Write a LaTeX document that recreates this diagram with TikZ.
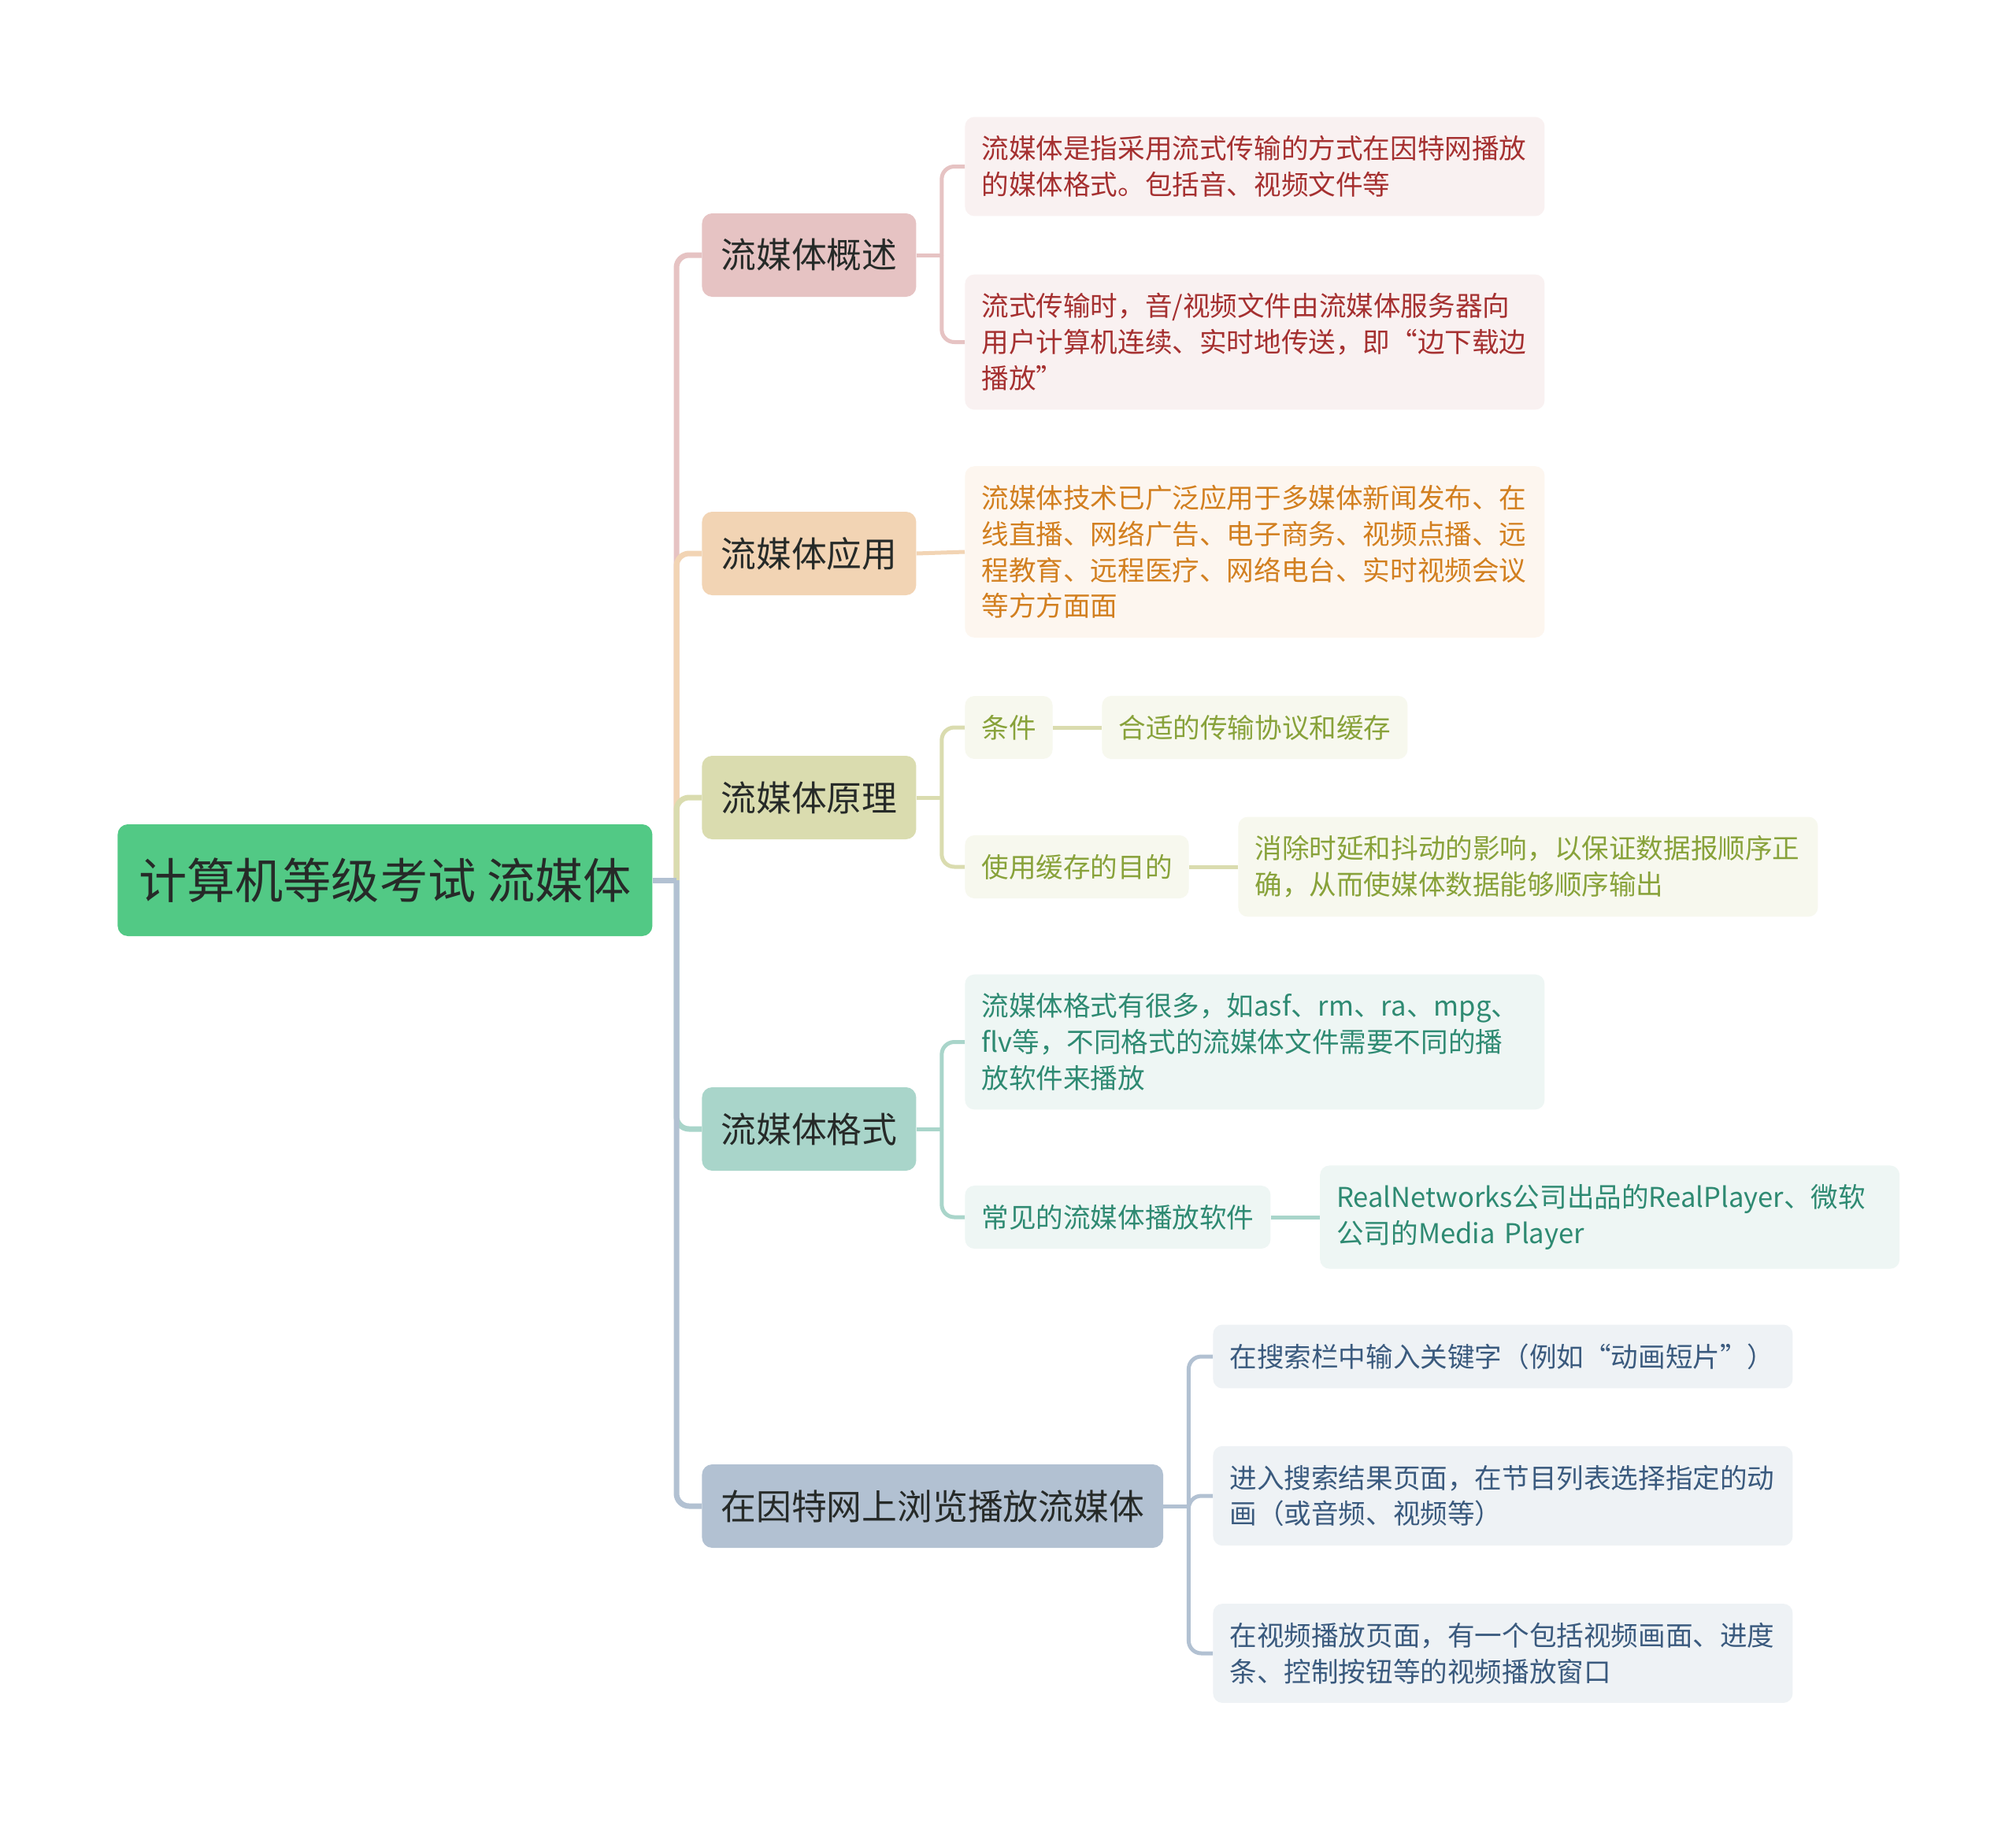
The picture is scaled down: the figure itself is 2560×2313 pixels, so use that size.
\documentclass[tikz,border=0pt]{standalone}
\usepackage{fontspec}
\setmainfont{Noto Sans CJK SC}
\usetikzlibrary{positioning}
\definecolor{rootfill}{HTML}{52C985}
\definecolor{darktxt}{HTML}{262A28}
\definecolor{redfill}{HTML}{E6C3C3}
\definecolor{redleaf}{HTML}{F9F1F1}
\definecolor{redtxt}{HTML}{A53030}
\definecolor{orgfill}{HTML}{F2D4B4}
\definecolor{orgleaf}{HTML}{FDF6EF}
\definecolor{orgtxt}{HTML}{D27F1F}
\definecolor{olvfill}{HTML}{DADCAF}
\definecolor{olvleaf}{HTML}{F7F8EE}
\definecolor{olvtxt}{HTML}{88A23A}
\definecolor{tealfill}{HTML}{A9D5CA}
\definecolor{tealleaf}{HTML}{EEF6F4}
\definecolor{tealtxt}{HTML}{2E8A72}
\definecolor{bluefill}{HTML}{B2C1D2}
\definecolor{blueleaf}{HTML}{EEF2F5}
\definecolor{bluetxt}{HTML}{3A5A7E}
\tikzset{
rootbox/.style={
  rounded corners=6.5pt,
  fill=rootfill,
  text=darktxt,
  font=\fontsize{30.6}{36}\selectfont,
  minimum width=339.5pt,
  minimum height=71pt,
  inner sep=0pt,
  anchor=west
  },
topicbox/.style={
  rounded corners=6.5pt,
  fill=#1,
  text=darktxt,
  font=\fontsize{22.4}{28}\selectfont,
  minimum height=53pt,
  inner xsep=12pt,
  anchor=west
  },
leafbox/.style 2 args={
  rounded corners=6pt,
  fill=#1,
  text=#2,
  font=\fontsize{17.3}{22.9}\selectfont,
  inner xsep=10.5pt,
  inner ysep=12pt,
  align=left,
  anchor=west
  },
widebox/.style={text width=347pt},
link/.style={draw=#1,line width=3.5pt,rounded corners=8pt},
sublink/.style={draw=#1,line width=2.5pt,rounded corners=8pt}
}
\begin{document}
\begin{tikzpicture}[x=0.5pt,y=-0.5pt]
    \fill[white] (0,0) rectangle (2560,2313);
    \useasboundingbox (0,0) rectangle (2560,2313);
    % root and topics
    \node[rootbox] (root) at (149,1118) {计算机等级考试 流媒体};
    \coordinate (trunk) at (859,1118);
    \node[topicbox=redfill] (gaishu) at (891,324) {流媒体概述};
    \node[topicbox=orgfill] (yingyong) at (891,703) {流媒体应用};
    \node[topicbox=olvfill] (yuanli) at (891,1013) {流媒体原理};
    \node[topicbox=tealfill] (geshi) at (891,1434) {流媒体格式};
    \node[topicbox=bluefill] (liulan) at (891,1913) {在因特网上浏览播放流媒体};
    \draw[link=redfill] (trunk) |- (gaishu.west);
    \draw[link=orgfill] (trunk) |- (yingyong.west);
    \draw[link=olvfill] (trunk) |- (yuanli.west);
    \draw[link=tealfill] (trunk) |- (geshi.west);
    \draw[link=bluefill] (trunk) |- (liulan.west);
    \draw[link=bluefill] (root.east) -- (trunk);
    % 概述
    \node[leafbox={redleaf}{redtxt},widebox] (gs1) at (1225,211.5)
        {流媒体是指采用流式传输的方式在因特网播放\\的媒体格式。包括音、视频文件等};
    \node[leafbox={redleaf}{redtxt},widebox] (gs2) at (1225,434.5)
        {流式传输时，音/视频文件由流媒体服务器向\\用户计算机连续、实时地传送，即“边下载边\\播放”};
    \path (gaishu.east) ++(32,0) coordinate (gsj);
    \draw[sublink=redfill] (gaishu.east) -- (gsj);
    \draw[sublink=redfill] (gsj) |- (gs1.west);
    \draw[sublink=redfill] (gsj) |- (gs2.west);
    % 应用
    \node[leafbox={orgleaf}{orgtxt},widebox] (yy1) at (1225,701)
        {流媒体技术已广泛应用于多媒体新闻发布、在\\线直播、网络广告、电子商务、视频点播、远\\程教育、远程医疗、网络电台、实时视频会议\\等方方面面};
    \draw[sublink=orgfill] (yingyong.east) -- (yy1.west);
    % 原理
    \node[leafbox={olvleaf}{olvtxt}] (tiaojian) at (1225,924) {条件};
    \node[leafbox={olvleaf}{olvtxt},right=31pt of tiaojian] (huancun) {合适的传输协议和缓存};
    \node[leafbox={olvleaf}{olvtxt}] (mudi) at (1225,1101) {使用缓存的目的};
    \node[leafbox={olvleaf}{olvtxt},widebox,right=31pt of mudi] (xiaochu)
        {消除时延和抖动的影响，以保证数据报顺序正\\确，从而使媒体数据能够顺序输出};
    \path (yuanli.east) ++(32,0) coordinate (ylj);
    \draw[sublink=olvfill] (yuanli.east) -- (ylj);
    \draw[sublink=olvfill] (ylj) |- (tiaojian.west);
    \draw[sublink=olvfill] (ylj) |- (mudi.west);
    \draw[sublink=olvfill] (tiaojian.east) -- (huancun.west);
    \draw[sublink=olvfill] (mudi.east) -- (xiaochu.west);
    % 格式
    \node[leafbox={tealleaf}{tealtxt},widebox] (gs3) at (1225,1323.5)
        {流媒体格式有很多，如asf、rm、ra、mpg、\\flv等，不同格式的流媒体文件需要不同的播\\放软件来播放};
    \node[leafbox={tealleaf}{tealtxt}] (ruanjian) at (1225,1546) {常见的流媒体播放软件};
    \node[leafbox={tealleaf}{tealtxt},widebox,right=31pt of ruanjian] (player)
        {RealNetworks公司出品的RealPlayer、微软\\公司的Media Player};
    \path (geshi.east) ++(32,0) coordinate (gej);
    \draw[sublink=tealfill] (geshi.east) -- (gej);
    \draw[sublink=tealfill] (gej) |- (gs3.west);
    \draw[sublink=tealfill] (gej) |- (ruanjian.west);
    \draw[sublink=tealfill] (ruanjian.east) -- (player.west);
    % 浏览播放
    \node[leafbox={blueleaf}{bluetxt},widebox] (ll1) at (1540,1723)
        {在搜索栏中输入关键字（例如“动画短片”）};
    \node[leafbox={blueleaf}{bluetxt},widebox] (ll2) at (1540,1900)
        {进入搜索结果页面，在节目列表选择指定的动\\画（或音频、视频等）};
    \node[leafbox={blueleaf}{bluetxt},widebox] (ll3) at (1540,2100)
        {在视频播放页面，有一个包括视频画面、进度\\条、控制按钮等的视频播放窗口};
    \path (liulan.east) ++(32,0) coordinate (llj);
    \draw[sublink=bluefill] (liulan.east) -- (llj);
    \draw[sublink=bluefill] (llj) |- (ll1.west);
    \draw[sublink=bluefill] (llj) |- (ll2.west);
    \draw[sublink=bluefill] (llj) |- (ll3.west);
\end{tikzpicture}
\end{document}
